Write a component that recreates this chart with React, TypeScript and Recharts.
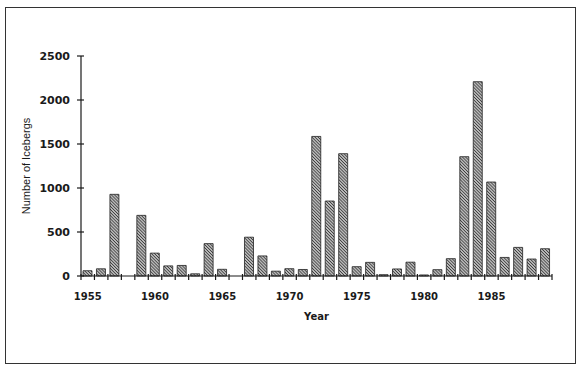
import React from 'react';
import { BarChart, Bar, XAxis, YAxis, Label } from 'recharts';

// iceberg counts by year
const years = [
  1955, 1956, 1957, 1958, 1959, 1960, 1961, 1962, 1963, 1964, 1965, 1966,
  1967, 1968, 1969, 1970, 1971, 1972, 1973, 1974, 1975, 1976, 1977, 1978,
  1979, 1980, 1981, 1982, 1983, 1984, 1985, 1986, 1987, 1988, 1989,
];
const icebergs = [
  60, 82, 928, 0, 689, 260, 115, 120, 25, 368, 76, 0,
  441, 228, 55, 83, 74, 1586, 852, 1390, 106, 155, 15, 80,
  157, 12, 72, 197, 1356, 2208, 1068, 211, 325, 193, 310,
];
const yTicks = [0, 500, 1000, 1500, 2000, 2500];
const yearLabels = [1955, 1960, 1965, 1970, 1975, 1980, 1985];

const data = years.map((year, i) => ({ year, count: icebergs[i] }));

const WIDTH = 580;
const HEIGHT = 370;
const MARGIN = { top: 56, right: 28, left: 0, bottom: 54 };
const Y_AXIS_W = 81;
const PLOT_W = WIDTH - MARGIN.left - MARGIN.right - Y_AXIS_W;

const INK = '#1a1a1a';
const TICK_FONT = '"DejaVu Sans", sans-serif';

// x tick: a tick mark on the left edge of each year band, label only every 5 years
const YearTick = (props: any) => {
  const { x, y, payload, index } = props;
  const half = payload?.offset ?? PLOT_W / years.length / 2;
  const left = x - half;
  const isLast = index === years.length - 1;
  return (
    <g>
      <line x1={left} x2={left} y1={y - 2} y2={y + 4} stroke={INK} strokeWidth={1.2} />
      {isLast && (
        <line x1={x + half} x2={x + half} y1={y - 2} y2={y + 4} stroke={INK} strokeWidth={1.2} />
      )}
      {yearLabels.includes(payload.value) && (
        <text x={x} y={y + 24} textAnchor="middle" fontSize={10} fontWeight="bold" fontFamily={TICK_FONT} fill={INK}>
          {payload.value}
        </text>
      )}
    </g>
  );
};

// y tick: mark crossing the axis, number to the left
const CountTick = (props: any) => {
  const { x, y, payload } = props;
  return (
    <g>
      <line x1={x - 4} x2={x + 3} y1={y} y2={y} stroke={INK} strokeWidth={1.2} />
      <text x={x - 11} y={y} dy={4} textAnchor="end" fontSize={11} fontWeight="bold" fontFamily={TICK_FONT} fill={INK}>
        {payload.value}
      </text>
    </g>
  );
};

export default function App() {
  return (
    <div style={{ position: 'absolute', left: 0, top: 0, width: WIDTH, height: HEIGHT, background: '#fff' }}>
      <div
        style={{
          position: 'absolute',
          left: 5,
          top: 7,
          width: 569,
          height: 355,
          border: '1.2px solid #333',
        }}
      />
      <BarChart width={WIDTH} height={HEIGHT} data={data} margin={MARGIN}>
        <defs>
          <pattern id="hatch" width="2.2" height="2.2" patternUnits="userSpaceOnUse" patternTransform="rotate(-45)">
            <rect width="2.2" height="2.2" fill="#b8b8b8" />
            <line x1="0" y1="0" x2="0" y2="2.2" stroke="#1e1e1e" strokeWidth="1.2" />
          </pattern>
        </defs>
        <XAxis
          dataKey="year"
          interval={0}
          height={40}
          tickSize={0}
          tickMargin={0}
          tickLine={false}
          tick={<YearTick />}
          axisLine={{ stroke: INK, strokeWidth: 1.2 }}
        >
          <Label
            content={({ viewBox }: any) => (
              <text
                x={viewBox.x + viewBox.width / 2}
                y={viewBox.y + 44}
                textAnchor="middle"
                fontSize={10}
                fontWeight="bold"
                fontFamily={TICK_FONT}
                fill={INK}
              >
                Year
              </text>
            )}
          />
        </XAxis>
        <YAxis
          width={Y_AXIS_W}
          domain={[0, 2500]}
          ticks={yTicks}
          interval={0}
          tickSize={0}
          tickMargin={0}
          tickLine={false}
          tick={<CountTick />}
          axisLine={{ stroke: INK, strokeWidth: 1.2 }}
        >
          <Label
            content={({ viewBox }: any) => (
              <text
                transform={`translate(${viewBox.x + 30},${viewBox.y + viewBox.height / 2}) rotate(-90)`}
                textAnchor="middle"
                fontSize={11}
                fontFamily='"Liberation Sans", sans-serif'
                fill={INK}
              >
                Number of Icebergs
              </text>
            )}
          />
        </YAxis>
        <Bar
          dataKey="count"
          barSize={9}
          fill="url(#hatch)"
          stroke="#222"
          strokeWidth={0.8}
          isAnimationActive={false}
        />
      </BarChart>
    </div>
  );
}
